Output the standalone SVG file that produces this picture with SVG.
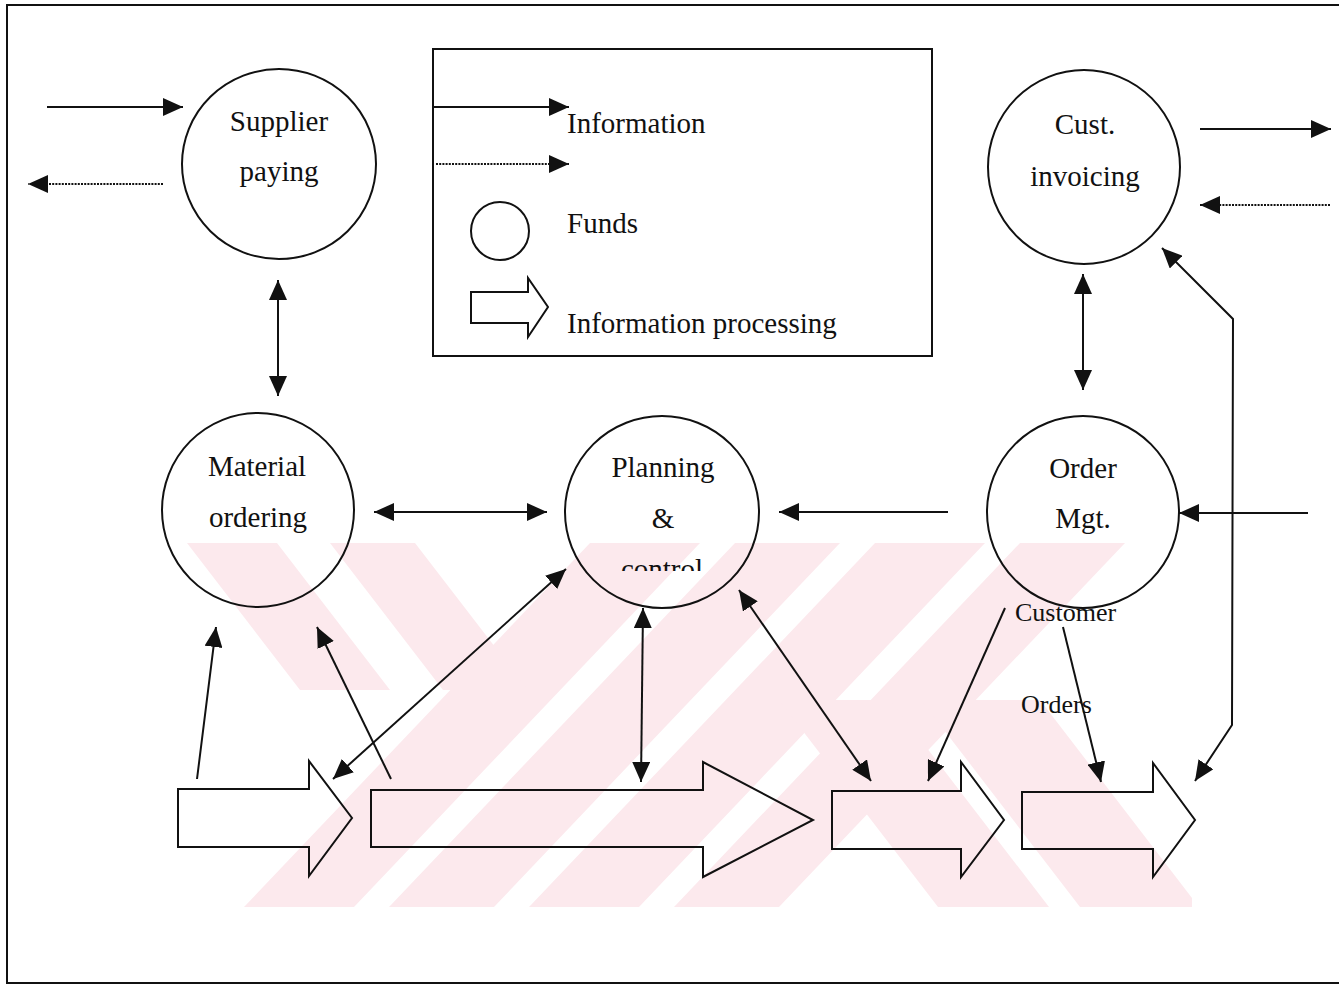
<svg xmlns="http://www.w3.org/2000/svg" width="1339" height="985" viewBox="0 0 1339 985">
  <style>
    .ln { fill: none; stroke: #111; stroke-width: 2; }
    .dot { fill: none; stroke: #111; stroke-width: 2; stroke-dasharray: 2 1.2; }
    .node { fill: none; stroke: #111; stroke-width: 2; }
    .blk { fill: none; stroke: #111; stroke-width: 2; stroke-linejoin: miter; }
    .lbl { font-family: "Liberation Serif", "Times New Roman", serif; font-size: 29px; fill: #111; text-anchor: middle; }
    .leg { font-family: "Liberation Serif", "Times New Roman", serif; font-size: 29px; fill: #111; }
    .small { font-family: "Liberation Serif", "Times New Roman", serif; font-size: 26px; fill: #111; }
    .wm { fill: #fce9ed; }
  </style>
  <defs>
    <marker id="ah" markerUnits="userSpaceOnUse" markerWidth="20" markerHeight="18" refX="20" refY="9" orient="auto-start-reverse">
      <path d="M0,0 L20,9 L0,18 z" fill="#111"/>
    </marker>
    <clipPath id="wmClip">
      <rect x="187" y="543" width="1005" height="364"/>
    </clipPath>
    <clipPath id="ctlClip">
      <rect x="560" y="540" width="200" height="31"/>
    </clipPath>
  </defs>

  <rect width="1339" height="985" fill="#fff"/>

  <!-- pale diagonal band background -->
  <g id="bands" clip-path="url(#wmClip)">
    <polygon class="wm" points="590,543 700,543 354,907 244,907"/>
    <polygon class="wm" points="735,543 840,543 494,907 389,907"/>
    <polygon class="wm" points="875,543 985,543 639,907 529,907"/>
    <polygon class="wm" points="1020,543 1125,543 779,907 674,907"/>
    <polygon class="wm" points="187,543 277,543 390,690 300,690"/>
    <polygon class="wm" points="330,543 415,543 528,690 443,690"/>
    <polygon class="wm" points="779,700 890,700 1049,907 938,907"/>
    <polygon class="wm" points="921,700 1040,700 1199,907 1080,907"/>
  </g>

  <!-- page frame -->
  <rect x="7" y="5" width="1345" height="978" fill="none" stroke="#111" stroke-width="2"/>

  <!-- legend -->
  <g id="legend">
    <rect x="433" y="49" width="499" height="307" fill="none" stroke="#111" stroke-width="2"/>
    <line class="ln" x1="433" y1="107" x2="569" y2="107" marker-end="url(#ah)"/>
    <line class="dot" x1="436" y1="164" x2="569" y2="164" marker-end="url(#ah)"/>
    <text class="leg" x="567" y="133">Information</text>
    <circle class="node" cx="500" cy="231" r="29"/>
    <text class="leg" x="567" y="233">Funds</text>
    <polygon class="blk" points="471,292 528,292 528,278 548,307 528,337 528,323 471,323"/>
    <text class="leg" x="567" y="333">Information processing</text>
  </g>

  <!-- process nodes -->
  <g id="supplier-paying">
    <ellipse class="node" cx="279" cy="164" rx="97" ry="95"/>
    <text class="lbl" x="279" y="131">Supplier</text>
    <text class="lbl" x="279" y="181">paying</text>
  </g>
  <g id="cust-invoicing">
    <ellipse class="node" cx="1084" cy="167" rx="96" ry="97"/>
    <text class="lbl" x="1085" y="134">Cust.</text>
    <text class="lbl" x="1085" y="186">invoicing</text>
  </g>
  <g id="material-ordering">
    <ellipse class="node" cx="258" cy="510" rx="96" ry="97"/>
    <text class="lbl" x="257" y="476">Material</text>
    <text class="lbl" x="258" y="527">ordering</text>
  </g>
  <g id="planning-control">
    <ellipse class="node" cx="662" cy="512" rx="97" ry="96"/>
    <text class="lbl" x="663" y="477">Planning</text>
    <text class="lbl" x="663" y="528">&amp;</text>
    <text class="lbl" x="662" y="579" clip-path="url(#ctlClip)">control</text>
  </g>
  <g id="order-mgt">
    <ellipse class="node" cx="1083" cy="512" rx="96" ry="96"/>
    <text class="lbl" x="1083" y="478">Order</text>
    <text class="lbl" x="1083" y="528">Mgt.</text>
  </g>

  <!-- information processing steps -->
  <g id="step-1">
    <polygon class="blk" points="178,789 309,789 309,761 352,818 309,876 309,847 178,847"/>
  </g>
  <g id="step-2">
    <polygon class="blk" points="371,790 703,790 703,762 813,820 703,877 703,847 371,847"/>
  </g>
  <g id="step-3">
    <polygon class="blk" points="832,791 961,791 961,762 1004,820 961,877 961,849 832,849"/>
  </g>
  <g id="step-4">
    <polygon class="blk" points="1022,792 1153,792 1153,763 1195,820 1153,877 1153,849 1022,849"/>
  </g>

  <!-- flow labels -->
  <g id="labels">
    <text class="small" x="1015" y="621">Customer</text>
    <text class="small" x="1021" y="713">Orders</text>
  </g>

  <!-- connectors -->
  <g id="connectors">
    <line class="ln" x1="47" y1="107" x2="183" y2="107" marker-end="url(#ah)"/>
    <line class="dot" x1="163" y1="184" x2="28" y2="184" marker-end="url(#ah)"/>
    <line class="ln" x1="278" y1="280" x2="278" y2="396" marker-start="url(#ah)" marker-end="url(#ah)"/>
    <line class="ln" x1="1200" y1="129" x2="1331" y2="129" marker-end="url(#ah)"/>
    <line class="dot" x1="1330" y1="205" x2="1200" y2="205" marker-end="url(#ah)"/>
    <line class="ln" x1="1083" y1="274" x2="1083" y2="390" marker-start="url(#ah)" marker-end="url(#ah)"/>
    <polyline class="ln" points="1162,248 1233,319 1232,725 1195,781" marker-start="url(#ah)" marker-end="url(#ah)"/>
    <line class="ln" x1="1308" y1="513" x2="1179" y2="513" marker-end="url(#ah)"/>
    <line class="ln" x1="374" y1="512" x2="547" y2="512" marker-start="url(#ah)" marker-end="url(#ah)"/>
    <line class="ln" x1="948" y1="512" x2="779" y2="512" marker-end="url(#ah)"/>
    <line class="ln" x1="643" y1="608" x2="641" y2="782" marker-start="url(#ah)" marker-end="url(#ah)"/>
    <line class="ln" x1="566" y1="569" x2="333" y2="779" marker-start="url(#ah)" marker-end="url(#ah)"/>
    <line class="ln" x1="739" y1="590" x2="871" y2="781" marker-start="url(#ah)" marker-end="url(#ah)"/>
    <line class="ln" x1="197" y1="779" x2="216" y2="627" marker-end="url(#ah)"/>
    <line class="ln" x1="391" y1="779" x2="317" y2="627" marker-end="url(#ah)"/>
    <line class="ln" x1="1005" y1="608" x2="928" y2="781" marker-end="url(#ah)"/>
    <line class="ln" x1="1063" y1="627" x2="1101" y2="782" marker-end="url(#ah)"/>
  </g>
</svg>
